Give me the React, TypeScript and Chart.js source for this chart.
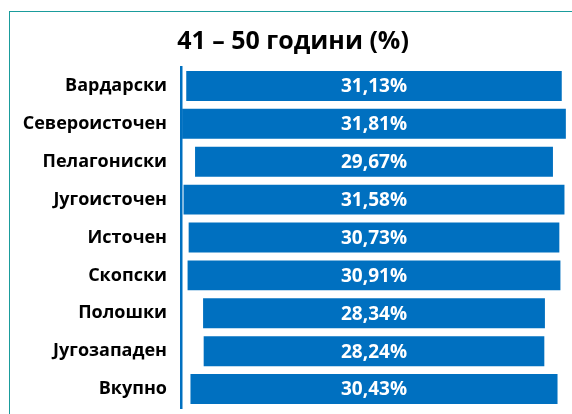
import React, { useEffect, useRef } from "react";
import { Chart, registerables } from "chart.js";

Chart.register(...registerables);

const categories = [
  "Вардарски",
  "Североисточен",
  "Пелагониски",
  "Југоисточен",
  "Источен",
  "Скопски",
  "Полошки",
  "Југозападен",
  "Вкупно",
];
const values = [31.13, 31.81, 29.67, 31.58, 30.73, 30.91, 28.34, 28.24, 30.43];
const titleText = "41 – 50 години (%)";

const FONT = "'Open Sans', 'Noto Sans', sans-serif";

const fmt = (v: number) => v.toFixed(2).replace(".", ",") + "%";

const barLabels = {
  id: "barLabels",
  afterDatasetsDraw(chart: any) {
    const ctx = chart.ctx;
    const meta = chart.getDatasetMeta(0);
    ctx.save();
    ctx.fillStyle = "#ffffff";
    ctx.font = `bold 19px ${FONT}`;
    ctx.textAlign = "center";
    ctx.textBaseline = "middle";
    meta.data.forEach((el: any, i: number) => {
      const c = el.getCenterPoint();
      ctx.fillText(fmt(values[i]), c.x, c.y + 1);
    });
    ctx.restore();
  },
};

export default function App() {
  const ref = useRef<HTMLCanvasElement>(null);
  useEffect(() => {
    if (!ref.current) return;
    const chart = new Chart(ref.current, {
      type: "bar",
      data: {
        labels: categories,
        datasets: [
          {
            data: values.map((v) => [-v / 2, v / 2]) as any,
            backgroundColor: "#0070C0",
            borderWidth: 0,
            barPercentage: 0.79,
            categoryPercentage: 1,
          },
        ],
      },
      options: {
        indexAxis: "y",
        animation: false,
        responsive: false,
        maintainAspectRatio: false,
        layout: { padding: { left: 19, right: 5, top: 0, bottom: 6 } },
        plugins: {
          legend: { display: false },
          tooltip: { enabled: false },
          title: {
            display: true,
            text: titleText,
            color: "#000000",
            font: { family: FONT, size: 25, weight: "bold" },
            padding: { top: 27, bottom: 10 },
          },
        },
        scales: {
          x: {
            display: false,
            min: -16,
            max: 16,
          },
          y: {
            afterFit: (s: any) => {
              s.width = 162;
              s.paddingTop = 0;
              s.paddingBottom = 0;
            },
            grid: { display: false, drawTicks: false },
            border: { display: true, color: "#0070C0", width: 2.5 },
            ticks: {
              color: "#000000",
              padding: 14,
              font: { family: FONT, size: 18, weight: "bold" },
            },
          },
        },
      },
      plugins: [barLabels],
    });
    return () => chart.destroy();
  }, []);
  return (
    <div
      style={{
        position: "fixed",
        left: 0,
        top: 0,
        width: 572,
        height: 414,
        overflow: "hidden",
        background: "#ffffff",
      }}
    >
      <canvas ref={ref} width={572} height={414} style={{ position: "absolute", left: 0, top: 0 }} />
      <div
        style={{
          position: "absolute",
          left: 9,
          top: 11,
          width: 700,
          height: 600,
          borderLeft: "1px solid #1a9c9c",
          borderTop: "1px solid #1a9c9c",
          pointerEvents: "none",
        }}
      />
    </div>
  );
}
